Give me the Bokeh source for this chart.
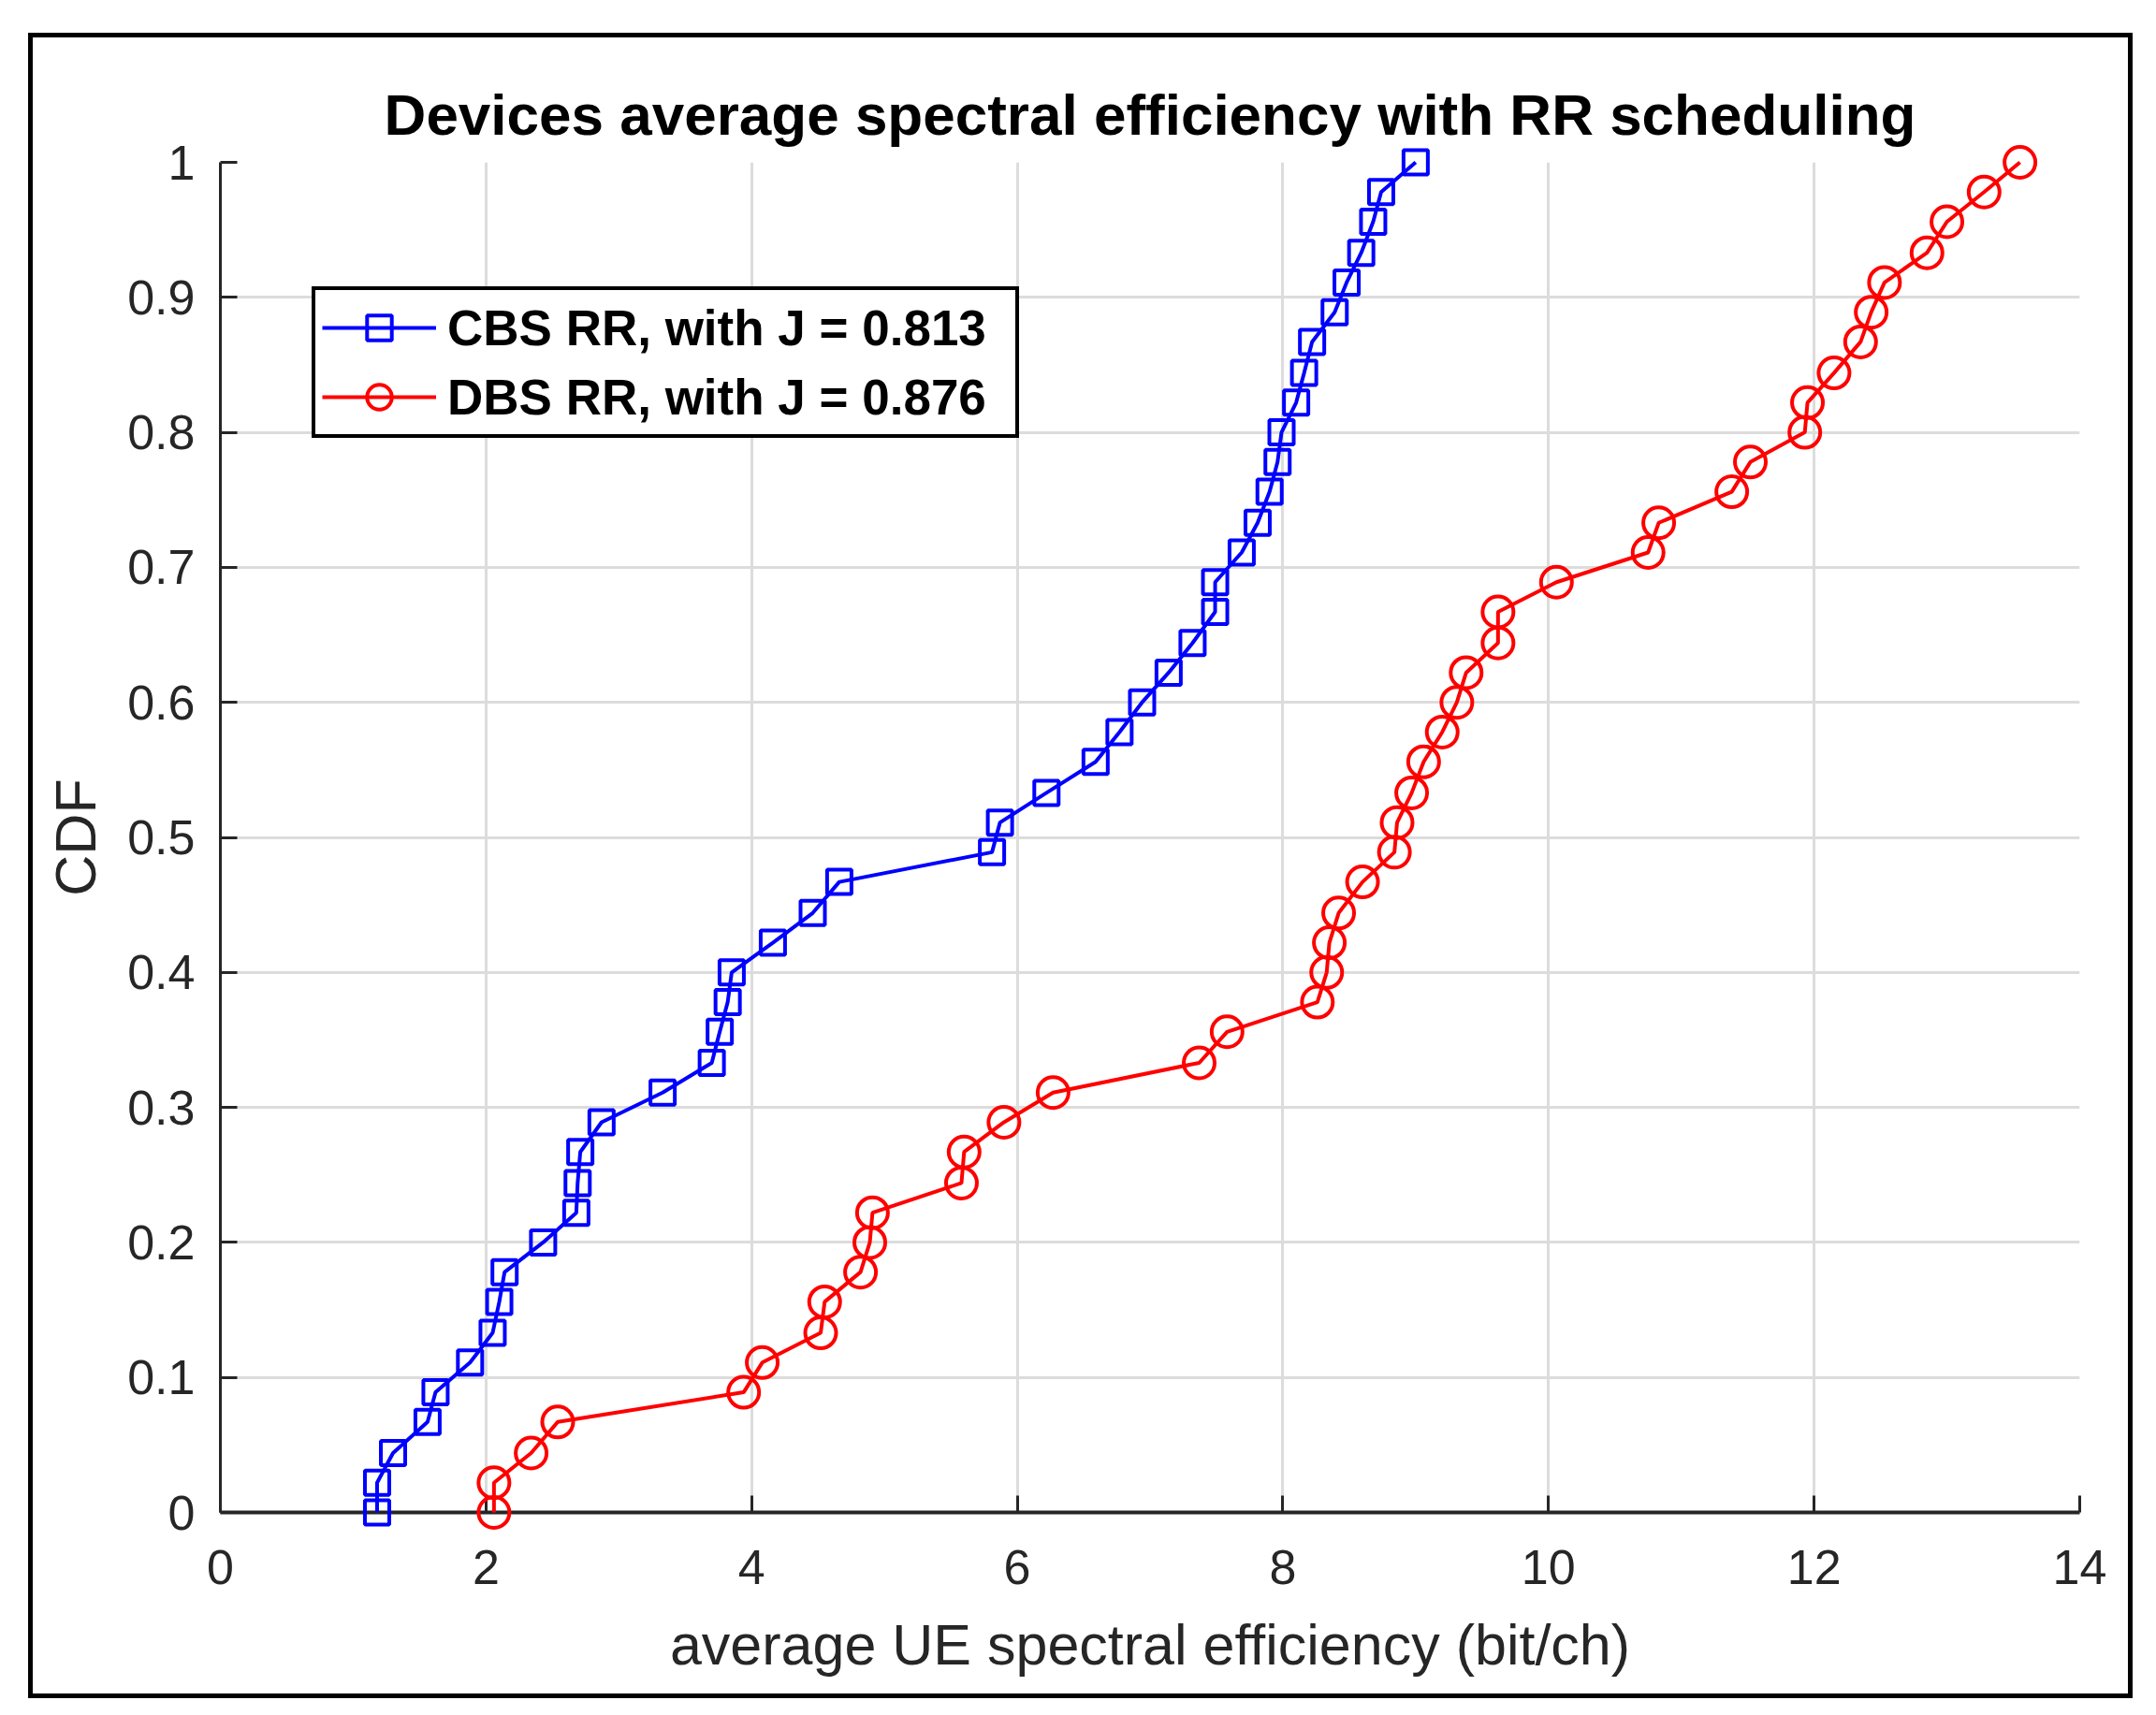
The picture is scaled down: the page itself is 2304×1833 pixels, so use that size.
from bokeh.plotting import figure
from bokeh.models import Range1d, FixedTicker, Legend, LegendItem
from bokeh.embed import file_html
from bokeh.resources import INLINE

# ---------------- data ----------------
cdf = [0.000, 0.022, 0.044, 0.067, 0.089, 0.111, 0.133, 0.156, 0.178, 0.200,
       0.222, 0.244, 0.267, 0.289, 0.311, 0.333, 0.356, 0.378, 0.400, 0.422,
       0.444, 0.467, 0.489, 0.511, 0.533, 0.556, 0.578, 0.600, 0.622, 0.644,
       0.667, 0.689, 0.711, 0.733, 0.756, 0.778, 0.800, 0.822, 0.844, 0.867,
       0.889, 0.911, 0.933, 0.956, 0.978, 1.000]

cbs_rr = [1.18, 1.18, 1.30, 1.56, 1.62, 1.88, 2.05, 2.10, 2.14, 2.43,
          2.68, 2.69, 2.71, 2.87, 3.33, 3.70, 3.76, 3.82, 3.85, 4.16,
          4.46, 4.66, 5.81, 5.87, 6.22, 6.59, 6.77, 6.94, 7.14, 7.32,
          7.49, 7.49, 7.69, 7.81, 7.90, 7.96, 7.99, 8.10, 8.16, 8.22,
          8.39, 8.48, 8.59, 8.68, 8.74, 9.00]

dbs_rr = [2.06, 2.06, 2.34, 2.54, 3.94, 4.08, 4.52, 4.55, 4.82, 4.89,
          4.91, 5.58, 5.60, 5.90, 6.27, 7.37, 7.58, 8.26, 8.33, 8.35,
          8.42, 8.60, 8.84, 8.86, 8.97, 9.06, 9.20, 9.31, 9.38, 9.62,
          9.62, 10.06, 10.75, 10.83, 11.38, 11.52, 11.93, 11.95, 12.15, 12.35,
          12.43, 12.53, 12.85, 13.00, 13.28, 13.55]

x_ticks = [0, 2, 4, 6, 8, 10, 12, 14]
y_ticks = [0, 0.1, 0.2, 0.3, 0.4, 0.5, 0.6, 0.7, 0.8, 0.9, 1]
y_tick_labels = ["0", "0.1", "0.2", "0.3", "0.4", "0.5", "0.6", "0.7", "0.8", "0.9", "1"]

series_names = ["CBS RR, with J = 0.813", "DBS RR, with J = 0.876"]

# ---------------- figure ----------------
FONT = "Liberation Sans"
AX = "#262626"

p = figure(width=2239, height=1770, output_backend="svg", toolbar_location=None,
           x_range=Range1d(0, 14), y_range=Range1d(0, 1),
           min_border_left=200, min_border_right=52,
           min_border_top=133, min_border_bottom=194,
           margin=(40, 0, 0, 35),
           title="Devices average spectral efficiency with RR scheduling")
# black frame drawn just outside the figure box
p.styles = {"outline": "5px solid black", "outline-offset": "0px"}
p.background_fill_color = "white"
p.border_fill_color = "white"
p.outline_line_color = None

p.title.align = "center"
p.title.text_font = FONT
p.title.text_font_size = "62px"
p.title.text_font_style = "bold"
p.title.text_color = "black"
p.title.standoff = 33

for ax in (p.xaxis[0], p.yaxis[0]):
    ax.axis_line_color = AX
    ax.axis_line_width = 4
    ax.major_tick_line_color = AX
    ax.major_tick_line_width = 3
    ax.major_tick_in = 18
    ax.major_tick_out = 0
    ax.minor_tick_line_color = None
    ax.major_label_text_font = FONT
    ax.major_label_text_font_size = "52px"
    ax.major_label_text_color = AX
    ax.axis_label_text_font = FONT
    ax.axis_label_text_font_size = "61px"
    ax.axis_label_text_font_style = "normal"
    ax.axis_label_text_color = AX

p.xaxis[0].ticker = FixedTicker(ticks=x_ticks)
p.yaxis[0].ticker = FixedTicker(ticks=y_ticks)
p.yaxis[0].major_label_overrides = {t: s for t, s in zip(y_ticks, y_tick_labels)}
p.xaxis[0].axis_label = "average UE spectral efficiency (bit/ch)"
p.yaxis[0].axis_label = "CDF"
p.xaxis[0].major_label_standoff = 40
p.yaxis[0].major_label_standoff = 27
p.xaxis[0].axis_label_standoff = 28
p.yaxis[0].axis_label_standoff = 18
p.yaxis[0].axis_line_width = 3

p.xgrid.ticker = FixedTicker(ticks=x_ticks)
p.ygrid.ticker = FixedTicker(ticks=y_ticks)
for g in (p.xgrid[0], p.ygrid[0]):
    g.grid_line_color = "#dcdcdc"
    g.grid_line_width = 3

# ---------------- series ----------------
l1 = p.line(cbs_rr, cdf, line_color="#0000ff", line_width=4, level="overlay")
m1 = p.scatter(cbs_rr, cdf, marker="square", size=26, fill_color=None,
               line_color="#0000ff", line_width=4, level="overlay")
l2 = p.line(dbs_rr, cdf, line_color="#ff0000", line_width=4, level="overlay")
m2 = p.scatter(dbs_rr, cdf, marker="circle", size=33, fill_color=None,
               line_color="#ff0000", line_width=4, level="overlay")

legend = Legend(items=[LegendItem(label=series_names[0], renderers=[l1, m1]),
                       LegendItem(label=series_names[1], renderers=[l2, m2])],
                location=(98, 1148))
legend.label_text_font = FONT
legend.label_text_font_size = "53px"
legend.label_text_font_style = "bold"
legend.label_text_color = "black"
legend.glyph_width = 122
legend.glyph_height = 66
legend.label_height = 66
legend.label_width = 600
legend.label_standoff = 12
legend.spacing = 8
legend.padding = 7
legend.margin = 0
legend.border_line_color = "black"
legend.border_line_alpha = 1.0
legend.border_line_width = 4
legend.background_fill_color = "white"
legend.background_fill_alpha = 1.0
p.add_layout(legend, "center")

open("out.html", "w").write(file_html(p, INLINE))
